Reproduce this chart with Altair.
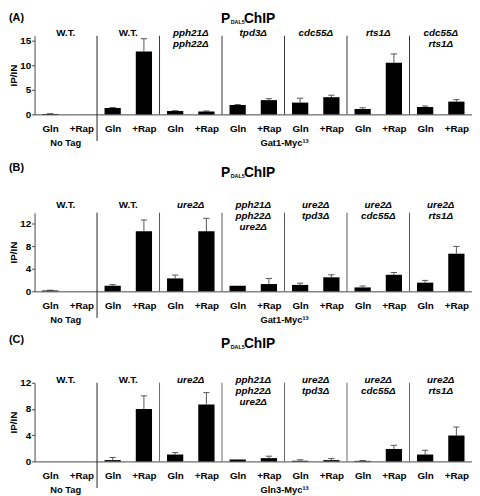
import altair as alt
import pandas as pd

FONT = "Liberation Sans"
conds = ["Gln", "+Rap"]

# ---- Panel A (Gat1-Myc13) ----
a_vals = [0.1, 0.0, 1.3, 12.8, 0.7, 0.6, 1.9, 2.9, 2.4, 3.5, 1.1, 10.5, 1.5, 2.6]
a_errs = [0.05, 0.0, 0.1, 2.6, 0.05, 0.1, 0.1, 0.3, 0.9, 0.4, 0.25, 1.8, 0.2, 0.4]
a_groups = ["W.T.", "W.T.", "pph21Δ\npph22Δ", "tpd3Δ", "cdc55Δ", "rts1Δ", "cdc55Δ\nrts1Δ"]
a_strain = "Gat1-Myc¹³"
a_ticks = [0, 5, 10, 15]

# ---- Panel B (Gat1-Myc13) ----
b_vals = [0.15, 0.0, 1.0, 10.7, 2.3, 10.7, 1.0, 1.3, 1.15, 2.5, 0.7, 2.95, 1.55, 6.7]
b_errs = [0.05, 0.0, 0.2, 2.0, 0.6, 2.3, 0.0, 1.0, 0.3, 0.45, 0.25, 0.4, 0.4, 1.3]
b_groups = ["W.T.", "W.T.", "ure2Δ", "pph21Δ\npph22Δ\nure2Δ", "ure2Δ\ntpd3Δ",
            "ure2Δ\ncdc55Δ", "ure2Δ\nrts1Δ"]
b_strain = "Gat1-Myc¹³"
b_ticks = [0, 4, 8, 12]

# ---- Panel C (Gln3-Myc13) ----
c_vals = [0.0, 0.0, 0.2, 8.0, 1.05, 8.7, 0.3, 0.5, 0.1, 0.2, 0.08, 1.9, 1.05, 3.95]
c_errs = [0.0, 0.0, 0.4, 2.0, 0.3, 1.8, 0.0, 0.3, 0.15, 0.25, 0.05, 0.55, 0.65, 1.3]
c_groups = b_groups
c_strain = "Gln3-Myc¹³"
c_ticks = [0, 4, 8, 12]

W = 445
H = 80


def make_panel(letter, vals, errs, groups, strain, ymax, yticks, lab_dy, letter_dy, title_dy, sepcol):
    n = len(vals)
    idx = list(range(n))
    df = pd.DataFrame({
        "pos": [i + 0.5 for i in idx],
        "lo": [i + 0.24 for i in idx],
        "hi": [i + 0.76 for i in idx],
        "capl": [i + 0.4 for i in idx],
        "capr": [i + 0.6 for i in idx],
        "val": vals,
        "top": [v + e for v, e in zip(vals, errs)],
        "err": errs,
        "cond": [conds[i % 2] for i in idx],
    })
    ng = len(groups)
    gdf = pd.DataFrame({
        "c": [2 * k + 1 for k in range(ng)],
        "g": groups,
        "ital": [g != "W.T." for g in groups],
    })
    sdf = pd.DataFrame({"s": [2 * (k + 1) for k in range(ng - 1)],
                        "first": [k == 0 for k in range(ng - 1)]})
    bdf = pd.DataFrame({"c": [1, (2 + 2 * ng) / 2], "t": ["No Tag", strain]})
    one = pd.DataFrame({"letter": [letter], "p": ["P"], "sub": ["DAL5"], "chip": ["ChIP"]})

    xscale = alt.Scale(domain=[0, 2 * ng], nice=False, zero=False)
    yscale = alt.Scale(domain=[0, ymax], nice=False)
    xaxis = alt.Axis(values=[i + 0.5 for i in idx],
                     labelExpr="datum.value % 2 < 1 ? 'Gln' : '+Rap'",
                     ticks=False, grid=False, title=None, labelFontWeight="bold",
                     labelFontSize=10, labelPadding=9, domainColor="#444",
                     labelColor="black", labelFont=FONT)
    yaxis = alt.Axis(values=yticks, title="IP/IN", titleFontWeight="bold", titleFontSize=10,
                     labelFontWeight="bold", labelFontSize=10, tickSize=3, grid=False,
                     domainColor="#444", tickColor="#444", labelPadding=1, titlePadding=1,
                     labelColor="black", titleColor="black", labelFont=FONT, titleFont=FONT)

    def X(f):
        return alt.X(f, scale=xscale, axis=xaxis, title=None)

    def Y(f):
        return alt.Y(f, scale=yscale, axis=yaxis)

    base = alt.Chart(df)
    bars = base.mark_bar(color="black").encode(x=X("lo:Q"), x2="hi:Q", y=Y("val:Q"), y2=alt.datum(0))
    erule = base.transform_filter("datum.err > 0").mark_rule(color="#555").encode(
        x=X("pos:Q"), y=Y("val:Q"), y2="top:Q")
    ecap = base.transform_filter("datum.err > 0").mark_rule(color="#555").encode(
        x=X("capl:Q"), x2="capr:Q", y=Y("top:Q"))

    seps = alt.Chart(sdf).transform_filter("!datum.first").mark_rule(color=sepcol).encode(
        x=X("s:Q"), y=alt.value(0), y2=alt.value(H))
    sep1 = alt.Chart(sdf).transform_filter("datum.first").mark_rule(color="#222").encode(
        x=X("s:Q"), y=alt.value(0), y2=alt.value(H + 27))

    glab_n = alt.Chart(gdf).transform_filter("!datum.ital").mark_text(
        fontWeight="bold", fontSize=10, baseline="middle", lineBreak="\n", lineHeight=11.5,
        font=FONT).encode(x=X("c:Q"), y=alt.value(lab_dy), text="g:N")
    glab_i = alt.Chart(gdf).transform_filter("datum.ital").mark_text(
        fontWeight="bold", fontStyle="italic", fontSize=10, baseline="middle", lineBreak="\n",
        lineHeight=11.5, font=FONT).encode(x=X("c:Q"), y=alt.value(lab_dy), text="g:N")

    blab = alt.Chart(bdf).mark_text(fontWeight="bold", fontSize=9.5, baseline="middle",
                                    font=FONT).encode(
        x=X("c:Q"), y=alt.value(H + 29), text="t:N")

    ob = alt.Chart(one)
    let = ob.mark_text(fontWeight="bold", fontSize=11, align="left", baseline="middle",
                       font=FONT).encode(x=alt.value(-26), y=alt.value(letter_dy), text="letter:N")
    tp = ob.mark_text(fontWeight="bold", fontSize=14, align="right", baseline="alphabetic",
                      font=FONT).encode(x=alt.value(199), y=alt.value(title_dy), text="p:N")
    ts = ob.mark_text(fontWeight="bold", fontSize=5.5, align="left", baseline="alphabetic",
                      font=FONT).encode(x=alt.value(199.5), y=alt.value(title_dy + 1), text="sub:N")
    tc = ob.mark_text(fontWeight="bold", fontSize=14, align="left", baseline="alphabetic",
                      font=FONT).encode(x=alt.value(213), y=alt.value(title_dy), text="chip:N")

    return alt.layer(seps, sep1, erule, ecap, bars, glab_n, glab_i, blab, let, tp, ts, tc).properties(
        width=W, height=H)


pA = make_panel("(A)", a_vals, a_errs, a_groups, a_strain, 16, a_ticks, -3, -18, -13, "#333")
pB = make_panel("(B)", b_vals, b_errs, b_groups, b_strain, 14, b_ticks, -8, -45, -36, "#555")
pC = make_panel("(C)", c_vals, c_errs, c_groups, c_strain, 12, c_ticks, -3, -43, -35, "#666")

inner = alt.vconcat(pB, pC, spacing=93, bounds="flush")
chart = alt.vconcat(pA, inner, spacing=100, bounds="flush").properties(
    padding={"left": 0, "top": 0, "right": 0, "bottom": 0}
).configure_view(strokeWidth=0).configure_text(font=FONT)

chart.save("out.html", embed_options={"renderer": "svg", "actions": False})
